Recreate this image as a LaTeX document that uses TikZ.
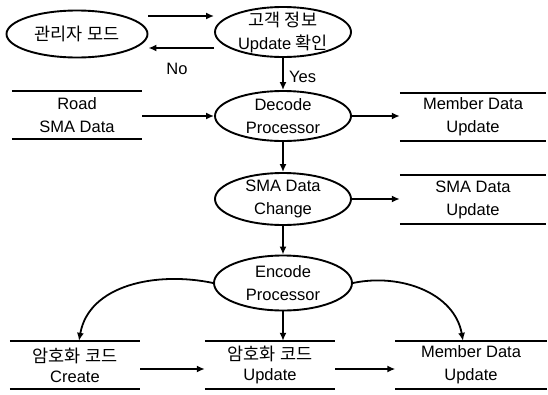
\documentclass[tikz,border=0pt]{standalone}
\usepackage{fontspec}
\setmainfont{Liberation Sans}
\newfontfamily\krfam{Noto Sans CJK KR}
\newcommand\kor{\krfam\fontsize{17.5}{23}\selectfont}
\usetikzlibrary{shapes.geometric,arrows.meta,calc}
\begin{document}
\begin{tikzpicture}[x=1pt,y=-1pt,
  txt/.style={font=\fontsize{16.5}{23}\selectfont},
  proc/.style={ellipse,draw,line width=1.9pt,inner xsep=0pt,inner ysep=-8pt,align=center,txt,minimum width=136pt,minimum height=50pt},
  store/.style={inner sep=0pt,align=center,txt,minimum height=48pt},
  sline/.style={line width=1.9pt},
  arr/.style={line width=1.8pt,-{Latex[length=8pt,width=7pt]}}]
\useasboundingbox (0,0) rectangle (548,394);
% processes
\node[proc,minimum width=141pt,minimum height=47pt] (adm) at (77,34) {\kor 관리자 모드};
\node[proc,minimum height=50pt] (chk) at (283,32) {\kor 고객 정보\\Update {\kor 확인}};
\node[proc] (dec) at (283,116) {Decode\\Processor};
\node[proc,minimum height=52pt] (chg) at (283,199) {SMA Data\\Change};
\node[proc,minimum width=138pt,minimum height=55pt] (enc) at (283,283) {Encode\\Processor};
% stores
\node[store,minimum width=130pt] (road) at (77,115) {Road\\SMA Data};
\node[store,minimum width=146pt] (mem1) at (473,117) {Member Data\\Update};
\node[store,minimum width=146pt] (smau) at (473,199.5) {SMA Data\\Update};
\node[store,minimum width=130pt] (cre) at (75,365) {\kor 암호화 코드\\[-3pt]Create};
\node[store,minimum width=130pt] (upd) at (270,365) {\kor 암호화 코드\\[-3pt]Update};
\node[store,minimum width=151pt] (mem2) at (471,365) {Member Data\\Update};
\foreach \n in {road,mem1,smau,cre,upd,mem2}{
  \draw[sline] (\n.north west) -- (\n.north east);
  \draw[sline] (\n.south west) -- (\n.south east);
}
% connectors
\draw[arr] ([yshift=18pt]adm.east) -- ([yshift=18pt]adm.east -| chk.west);
\draw[arr] ([yshift=-16pt]chk.west) -- ([yshift=-16pt]chk.west -| adm.east);
\node[txt,anchor=north] (no) at (177,60) {No};
\draw[arr] (chk.south) -- (dec.north) node[txt,midway,right,xshift=2pt,yshift=-3pt] (yes) {Yes};
\draw[arr] (road.east |- dec.west) -- (dec.west);
\draw[arr] (dec.east) -- (dec.east -| mem1.west);
\draw[arr] (dec.south) -- (chg.north);
\draw[arr] (chg.east) -- (chg.east -| smau.west);
\draw[arr] (chg.south) -- (enc.north);
\draw[arr] (enc.west) to[out=168,in=80] ([xshift=4pt]cre.north);
\draw[arr] (enc.south) -- (enc.south |- upd.north);
\draw[arr] (enc.east) to[out=12,in=100] ([xshift=-8pt]mem2.north);
\draw[arr] ([yshift=-4pt]cre.east) -- ([yshift=-4pt]upd.west);
\draw[arr] ([yshift=-4pt]upd.east) -- ([yshift=-4pt]mem2.west);
\end{tikzpicture}
\end{document}
